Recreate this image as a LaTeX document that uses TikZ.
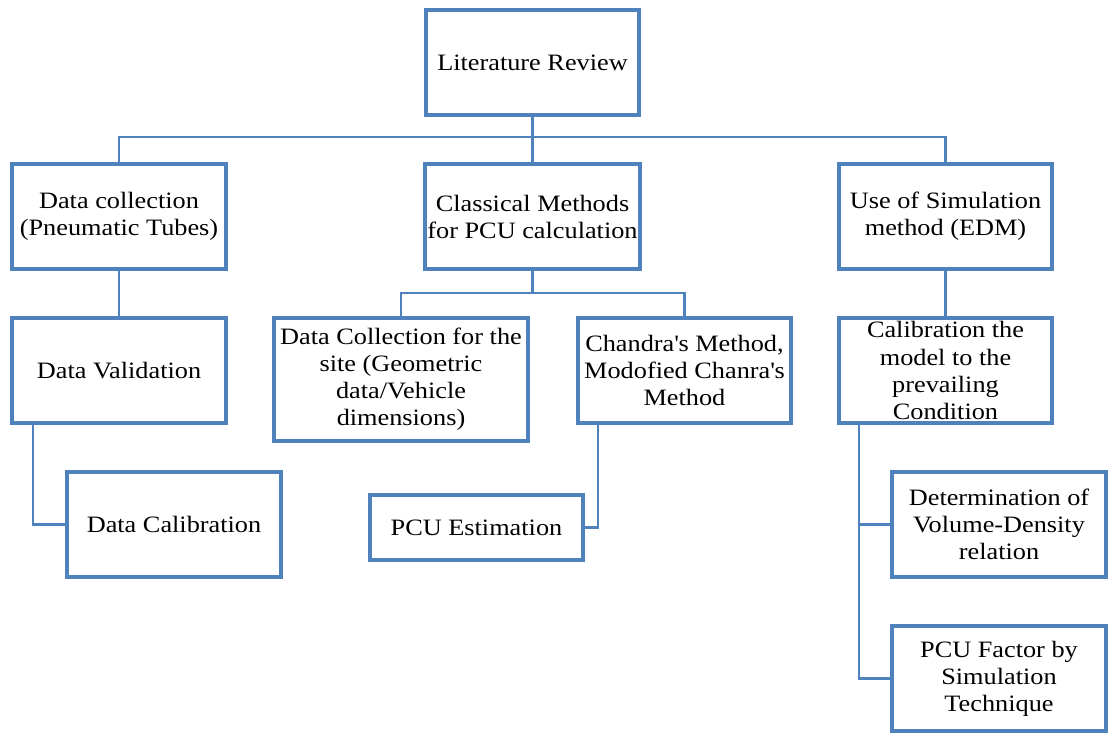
\documentclass[tikz,border=0pt]{standalone}
\usepackage{fontspec}
\setmainfont{Liberation Serif}[FakeStretch=1.12]
\definecolor{boxblue}{RGB}{79,129,189}

\begin{document}
\begin{tikzpicture}[
  x=0.75pt, y=-0.75pt,
  box/.style = {draw=boxblue, line width=3pt, align=center, inner sep=2pt,
                font=\fontsize{17.6}{20.3}\selectfont,
                minimum width=160pt, minimum height=78.75pt},
  wbox/.style = {box, minimum width=190.5pt, minimum height=92.25pt},
  sbox/.style = {box, minimum height=48.75pt},
  link/.style = {draw=boxblue, line width=2pt}
]

% Pixel coordinates of the 1108x733 layout, y downwards.
\useasboundingbox (0,0) rectangle (1108,733);

% Row 1: y=62.5
\node [box] (litrev) at (532.5,62.5) {Literature Review};

% Row 2: y=216.5
\node [box] (datacoll) at (119,216.5)
  {Data collection\\(Pneumatic Tubes)};
\node [box] (classical) at (532.5,216.5)
  {Classical Methods\\for PCU calculation};
\node [box] (simmethod) at (945.5,216.5)
  {Use of Simulation\\method (EDM)};

% Row 3: y=370.5
\node [box] (validation) at (119,370.5) {Data Validation};
\node [wbox] (sitedata) at (401,379.5)
  {Data Collection for the\\site (Geometric\\data/Vehicle\\dimensions)};
\node [box] (chandra) at (684.5,370.5)
  {Chandra\textquotesingle s Method,\\Modofied Chanra\textquotesingle s\\Method};
\node [box] (calmodel) at (945.5,370.5)
  {Calibration the\\model to the\\prevailing\\Condition};

% Row 4: y=524.5
\node [box] (calibration) at (174,524.5) {Data Calibration};
\node [sbox] (pcuest) at (476.5,527.5) {PCU Estimation};
\node [box] (voldens) at (999,524.5)
  {Determination of\\Volume-Density\\relation};

% Row 5: y=678
\node [box] (pcufactor) at (999,678.5)
  {PCU Factor by\\Simulation\\Technique};

% Bus lines
\coordinate (topbus) at (532.5,137);
\coordinate (midbus) at (532.5,293);

% Connectors
\draw [link] (litrev) -- (classical);
\draw [link] (datacoll.north) |- (topbus) -| (simmethod.north);
\draw [link] (datacoll) -- (validation);
\draw [link] (simmethod) -- (calmodel);
\draw [link] (classical.south) -- (midbus);
\draw [link] (sitedata.north) |- (midbus) -| (chandra.north);
\draw [link] ([xshift=17pt]validation.south west) |- (calibration.west);
\draw [link] ([xshift=16.5pt]chandra.south west) |- (pcuest.east);
\draw [link] ([xshift=16.5pt]calmodel.south west) |- (voldens.west);
\draw [link] ([xshift=16.5pt]calmodel.south west) |- (pcufactor.west);

\end{tikzpicture}
\end{document}
